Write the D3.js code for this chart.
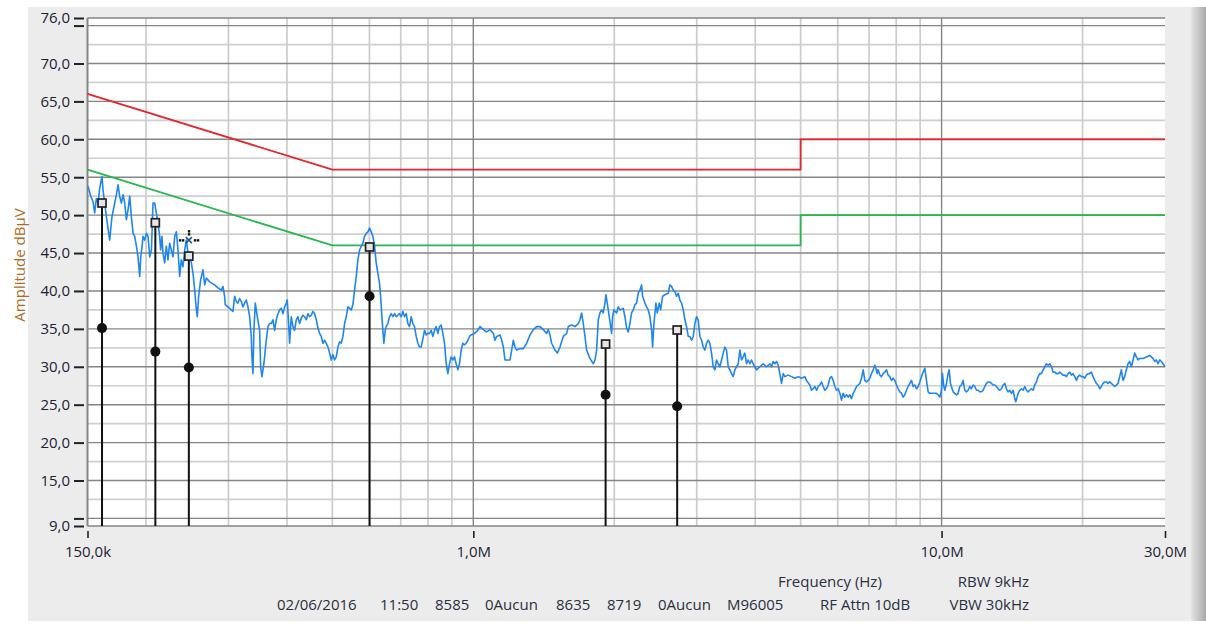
<!DOCTYPE html>
<html>
<head>
<meta charset="utf-8"/>
<script src="https://cdn.jsdelivr.net/npm/d3@7/dist/d3.min.js"></script>
<style>
body { margin: 0; background: #fff; overflow: hidden; }
svg text { font-family: "Open Sans", sans-serif; }
</style>
</head>
<body>
<svg id="svg" width="1206" height="625"></svg>
<script>
// limit lines, frequency in kHz, level in dBuV
var qpFreq  = [150, 500, 5000, 5000, 30000];
var qpLimit = [66, 56, 56, 60, 60];
var avFreq  = [150, 500, 5000, 5000, 30000];
var avLimit = [56, 46, 46, 50, 50];

// markers (peak square + average dot)
var markerFreq = [161.1, 209.4, 246.9, 600.4, 1916.5, 2725];
var markerPeak = [51.6, 49.0, 44.6, 45.8, 33.0, 34.85];
var markerAvg  = [35.1, 32.0, 29.9, 39.3, 26.3, 24.8];
var cursorFreq = 246.9, cursorLevel = 46.7;

// measured trace
var traceFreq = [
 150.4,152.4,154.1,155.4,156.7,158.0,159.3,160.6,161.1,161.9,163.2,164.6,165.9,167.3,168.1,169.2,171.5,172.9,174.3,175.7,
 177.2,178.7,180.1,181.6,183.1,184.6,186.1,187.7,189.2,190.8,192.3,193.9,194.9,196.2,197.1,198.7,200.4,202.0,203.7,205.4,207.0,
 208.7,210.4,212.1,213.9,214.9,216.3,217.4,219.2,221.0,222.8,224.7,226.5,228.4,230.3,232.2,234.1,236.0,237.9,239.9,241.9,243.8,
 245.9,247.9,250.0,252.0,254.1,256.2,257.4,259.1,261.7,264.7,266.9,269.1,273.5,276.7,280.3,285.0,
 289.6,292.0,294.4,295.3,299.2,304.2,306.7,309.2,311.8,314.3,316.9,319.5,322.1,324.8,327.5,330.2,332.9,335.6,336.7,338.4,340.0,
 342.3,345.7,349.7,351.4,353.7,357.1,361.3,364.3,367.3,370.3,373.4,376.4,379.5,382.7,385.8,389.0,392.2,395.4,398.7,400.6,
 403.2,405.2,408.5,411.9,415.3,418.7,422.2,425.6,429.1,432.7,436.2,439.8,443.4,447.1,450.7,454.5,458.2,462.0,465.8,469.6,
 473.5,477.4,481.3,485.3,489.3,493.3,497.4,501.4,505.6,509.7,513.9,518.1,522.4,526.7,531.0,535.4,539.8,544.3,548.7,553.2,
 557.7,562.3,566.9,571.6,576.3,581.0,585.8,590.6,595.5,600.4,605.3,610.3,615.3,620.4,625.5,630.6,633.8,638.0,641.0,644.2,648.4,651.6,
 657.0,662.4,667.9,673.3,678.9,684.5,690.1,695.8,701.5,707.3,713.1,719.0,724.9,730.8,736.8,742.9,749.0,755.2,761.4,767.7,
 774.0,780.4,786.8,793.3,799.8,806.4,813.0,819.7,826.4,833.2,840.1,847.0,854.0,861.0,868.1,875.2,882.4,889.7,897.0,904.4,
 911.7,919.2,926.8,934.4,942.1,949.8,957.6,965.5,973.5,981.5,989.5,1005.9,1022.5,
 1033.5,1050.5,1067.9,1085.5,1103.5,1112.5,1121.7,1140.2,1149.6,
 1159.1,1168.6,1178.3,1197.7,1207.6,1217.5,1227.5,1237.6,1258.1,1278.8,1300.0,1321.4,1343.3,
 1365.4,1388.0,1410.9,1434.2,1446.0,1457.9,1469.9,1494.2,1511.5,1531.3,1556.6,1582.3,1595.4,
 1621.6,1648.4,1675.6,1689.4,1703.3,1717.3,1731.5,1745.7,1774.5,1803.9,1818.7,1833.7,1848.8,1864.0,1879.3,
 1894.7,1910.3,1919.7,1932.2,1951.2,1973.9,1983.4,1996.1,2023.0,2039.7,2056.5,2090.4,2107.6,2125.0,2142.5,2160.1,2177.8,2195.7,2213.8,
 2232.0,2250.4,2268.9,2287.5,2298.7,2325.3,2344.4,2363.7,2383.2,2402.8,2414.6,2430.6,2454.5,2470.8,2495.1,2511.9,2536.4,2565.5,2607.9,
 2629.3,2650.9,2672.7,2694.7,2716.9,2739.2,2761.8,2784.5,2807.4,2830.5,2853.8,2877.2,2901.0,2924.8,2948.8,2973.1,2997.5,3022.2,3047.1,3072.1,
 3097.3,3122.8,3148.5,3174.4,3200.5,3226.8,3253.3,3280.1,3307.1,3334.3,3361.7,3389.4,3417.3,3445.3,3473.7,3502.3,3531.1,3560.2,3589.4,3618.9,
 3648.6,3678.6,3708.9,3739.4,3770.1,3801.1,3832.4,3863.9,3895.7,3927.8,3960.1,3992.7,4025.5,4092.0,4159.6,4228.3,
 4298.1,4333.5,4369.1,4405.0,4441.3,4477.8,4514.6,4551.8,4589.2,4627.0,4703.4,4781.1,4860.1,4940.4,5022.0,
 5104.8,5146.7,5231.8,
 5276.0,5319.4,5363.2,5407.3,5451.7,5496.6,5541.8,
 5587.4,5633.4,5679.7,5726.4,5773.5,5821.0,5868.9,5917.2,5965.8,6014.9,6064.4,6114.3,6164.6,6215.3,6266.4,6317.9,6369.9,6422.3,6475.1,6528.4,
 6581.9,6636.1,6690.6,6745.7,6801.1,6857.1,6913.5,6970.4,7027.7,7085.5,7143.8,7202.6,7238.2,7286.3,7321.6,7381.8,7442.5,7503.7,7565.4,7627.7,7690.4,
 7753.4,7817.2,7881.5,7946.3,8011.7,8077.6,8144.0,8211.0,8278.5,8346.7,8415.3,8484.6,8554.3,8624.7,8695.6,8767.1,8839.2,8911.9,8985.3,9059.2,
 9133.6,9208.8,9284.5,9360.9,9437.8,9593.8,9752.3,9832.6,9913.3,9994.9,10044,10111,10160,10244,10328,10380,10448,10498,10585,10672,
 10760,10848,10938,11028,11118,11210,11302,11395,11489,11583,11678,11774,11871,11969,12067,12167,12267,12368,12469,12572,
 12675,12779,12884,12990,13097,13205,13314,13423,13533,13645,13757,13870,13984,14099,14215,14332,14404,14499,14569,14689,14810,
 14931,15054,15178,15302,15428,15555,15683,15812,15942,16073,16206,16339,16473,16609,16746,16883,17022,17162,17303,17446,
 17588,17733,17879,18026,18174,18323,18474,18626,18779,18934,19089,19247,19405,19565,19725,19888,20051,20216,20383,20550,
 20719,20890,21061,21234,21409,21585,21763,21942,22122,22304,22488,22673,22859,23047,23237,23428,23620,23815,24010,24208,
 24407,24608,24810,25014,25220,25427,25637,25848,26060,26275,26491,26928,27373,27825,28285,28518,
 28752,28989,29227,29467,29710,30000
];
var traceAmp = [
 53.8,52.5,51.8,50.3,52.2,51.6,53.6,54.7,55.1,53.3,51.6,49.8,48.3,46.7,48.1,49.8,51.6,52.7,54.0,52.5,
 51.6,52.7,51.6,49.4,50.7,52.5,49.8,47.6,47.2,45.9,44.5,41.9,44.5,45.9,47.2,46.7,47.6,47.2,44.5,45.4,51.6,
 51.6,50.3,48.9,47.2,45.4,47.2,45.0,43.7,45.9,44.1,46.3,45.4,44.5,47.2,47.8,45.4,41.9,44.1,43.2,45.4,46.7,
 45.0,44.5,43.7,42.3,40.1,37.5,36.6,39.3,41.5,42.8,40.8,41.7,41.2,41.0,40.8,40.4,
 40.1,40.6,39.3,38.2,37.9,37.5,37.3,39.3,38.6,38.4,39.0,38.6,37.9,38.4,38.8,37.9,36.6,34.0,31.3,29.1,34.8,
 38.4,36.6,34.8,30.0,28.7,30.4,33.5,35.3,35.7,35.7,36.2,34.8,36.2,37.0,37.5,37.7,37.0,37.9,38.4,38.8,
 35.7,33.1,36.6,35.3,34.8,36.2,36.6,35.7,36.4,36.8,36.6,36.2,37.0,36.6,36.8,37.3,37.0,36.2,35.1,34.4,
 34.0,33.1,33.5,33.1,32.6,31.8,30.9,31.6,30.9,31.3,32.6,33.3,33.1,34.0,35.7,36.6,37.9,37.7,37.5,38.2,
 40.1,41.9,44.1,45.4,45.9,46.3,47.2,47.6,47.8,48.3,47.8,47.2,45.9,43.7,42.3,41.0,39.3,36.6,34.8,33.1,34.8,35.3,
 35.7,36.6,37.0,36.6,37.0,36.6,36.8,37.0,36.6,37.3,36.6,37.0,35.7,35.3,36.6,35.7,35.3,34.0,33.1,32.6,
 32.6,33.7,34.8,34.2,34.4,34.4,34.8,34.0,34.8,35.3,34.4,35.3,35.5,34.4,33.1,30.4,29.1,30.4,31.3,30.9,
 31.3,30.4,29.6,30.4,32.2,33.1,32.9,33.1,33.5,34.0,34.2,34.4,34.8,
 35.3,34.9,34.6,34.9,34.4,33.5,34.0,34.2,33.5,
 32.6,30.9,30.9,30.9,32.2,33.5,32.6,32.2,32.4,32.4,33.1,34.2,34.9,
 35.3,35.3,34.9,34.4,34.9,34.2,33.1,32.2,31.8,32.6,34.0,34.4,35.3,
 35.5,35.3,35.7,36.2,37.1,35.7,34.0,32.2,31.1,30.4,30.9,32.2,36.2,37.1,37.5,
 37.1,38.4,39.5,38.4,36.6,34.4,36.6,37.5,37.1,37.9,37.5,37.7,36.6,35.1,34.6,35.7,37.1,37.5,38.2,
 38.4,39.7,40.1,40.8,39.3,38.4,37.9,37.5,36.6,34.9,32.6,35.7,38.4,37.1,38.4,37.5,39.3,39.5,39.7,
 40.8,40.6,40.1,39.9,39.3,39.7,38.8,38.4,37.5,36.2,35.3,34.0,34.0,33.5,34.0,35.7,36.6,36.2,34.0,33.5,
 32.6,32.2,33.1,33.5,33.1,31.8,30.0,29.6,30.9,30.4,30.0,30.9,31.8,32.6,32.2,30.0,29.6,29.1,28.7,29.6,
 30.0,30.4,32.2,30.9,31.3,31.8,30.4,30.9,30.4,30.9,30.4,30.0,29.6,30.0,30.4,30.0,
 30.4,30.0,30.7,30.4,30.7,30.2,29.1,27.8,29.1,28.7,28.9,28.7,28.5,28.7,28.5,
 28.7,28.2,27.6,
 26.9,27.1,27.4,26.9,27.4,27.6,28.0,
 27.4,26.9,27.1,27.6,28.5,28.7,28.2,27.4,26.9,27.1,26.5,25.6,26.5,26.0,26.3,26.0,26.3,25.8,26.5,26.9,
 27.4,27.6,27.8,28.5,29.6,28.2,28.0,28.2,28.5,29.1,29.6,30.2,29.8,29.1,29.6,28.9,28.7,29.1,29.3,29.6,28.9,
 28.7,28.2,28.5,28.2,27.6,27.1,26.7,26.5,26.0,26.3,26.9,27.4,27.8,28.2,27.4,27.6,27.1,27.4,28.0,28.7,
 29.3,29.8,28.2,26.7,26.5,26.5,26.5,26.3,26.0,26.9,29.1,27.4,26.9,27.8,29.1,29.6,27.8,27.4,26.7,26.5,
 26.3,26.5,27.4,27.6,28.2,26.9,26.7,26.9,27.4,27.1,27.6,27.4,26.9,26.9,26.7,26.7,26.9,27.4,27.8,28.0,
 28.0,27.8,27.6,27.6,27.4,27.1,26.9,27.1,27.6,27.8,27.1,26.7,26.9,26.5,26.9,25.8,25.4,26.0,26.5,26.9,27.1,
 26.9,27.4,26.9,26.7,26.9,27.1,26.9,27.6,28.0,28.7,29.1,29.1,29.6,30.0,30.4,30.2,30.4,30.0,29.3,29.3,
 29.1,29.1,29.3,29.1,28.9,28.9,28.7,29.1,29.3,28.9,29.1,28.7,28.2,28.7,28.9,28.7,28.7,28.5,28.9,29.1,
 29.1,29.3,28.7,28.2,27.8,27.6,27.1,27.4,27.8,28.0,28.0,27.8,28.0,27.8,27.6,27.4,27.6,27.8,28.7,29.6,
 28.2,28.7,29.6,30.4,30.7,30.0,30.9,31.8,31.3,30.9,31.1,31.1,31.3,31.5,31.1,30.7,
 30.9,30.4,30.9,30.7,30.4,30.0
];

// axes
var xTickVals   = [150, 1000, 10000, 30000];
var xTickLabels = ["150,0k", "1,0M", "10,0M", "30,0M"];
var xMinorGrid  = [200,300,400,500,600,700,800,900,2000,3000,4000,5000,6000,7000,8000,9000,20000];
var xMajorGrid  = [1000, 10000];
var yTickVals   = [9,10,15,20,25,30,35,40,45,50,55,60,65,70,75,76];
var yLabelVals  = [9,15,20,25,30,35,40,45,50,55,60,65,70,76];
var yMajorGrid  = [10,15,20,25,30,35,40,45,50,55,60,65,70,75];
var yMinorGrid  = [12.5,17.5,22.5,27.5,32.5,37.5,42.5,47.5,52.5,57.5,62.5,67.5,72.5];

var infoLine1 = [["Frequency (Hz)", 778, "start"], ["RBW 9kHz", 1029, "end"]];
var infoLine2 = [["02/06/2016", 277, "start"], ["11:50", 380, "start"], ["8585", 435, "start"],
                 ["0Aucun", 485, "start"], ["8635", 556, "start"], ["8719", 607, "start"],
                 ["0Aucun", 658, "start"], ["M96005", 727, "start"], ["RF Attn 10dB", 820, "start"],
                 ["VBW 30kHz", 1029, "end"]];

var pLeft = 87.5, pRight = 1165, pTop = 18, pBottom = 526;

var svg = d3.select("#svg");

var defs = svg.append("defs");
var grad = defs.append("linearGradient").attr("id", "shade");
grad.append("stop").attr("offset", "0%").attr("stop-color", "#e4e4e4");
grad.append("stop").attr("offset", "100%").attr("stop-color", "#a9a9a9");

// panel
svg.append("rect").attr("x", 28).attr("y", 7).attr("width", 1166).attr("height", 614).attr("fill", "#ececec");
svg.append("rect").attr("x", 1191).attr("y", 7).attr("width", 15).attr("height", 614).attr("fill", "url(#shade)");
svg.append("rect").attr("x", pLeft).attr("y", pTop).attr("width", pRight - pLeft).attr("height", pBottom - pTop).attr("fill", "#fff");

var x = d3.scaleLog().domain([150, 30000]).range([pLeft, pRight]);
var y = d3.scaleLinear().domain([9, 76]).range([pBottom, pTop]);

var comma = function(v) { return d3.format(".1f")(v).replace(".", ","); };

// grid
var grid = svg.append("g");
grid.selectAll(".hmin").data(yMinorGrid).enter().append("line")
  .attr("x1", pLeft).attr("x2", pRight)
  .attr("y1", d => y(d)).attr("y2", d => y(d))
  .attr("stroke", "#cfcfcf").attr("stroke-width", 1.7);
grid.selectAll(".vmin").data(xMinorGrid).enter().append("line")
  .attr("x1", d => x(d)).attr("x2", d => x(d))
  .attr("y1", pTop).attr("y2", pBottom)
  .attr("stroke", "#cccccc").attr("stroke-width", 1.7);
grid.selectAll(".hmaj").data(yMajorGrid).enter().append("line")
  .attr("x1", pLeft).attr("x2", pRight)
  .attr("y1", d => y(d)).attr("y2", d => y(d))
  .attr("stroke", "#858585").attr("stroke-width", 1.4);
grid.selectAll(".vmaj").data(xMajorGrid).enter().append("line")
  .attr("x1", d => x(d)).attr("x2", d => x(d))
  .attr("y1", pTop).attr("y2", pBottom)
  .attr("stroke", "#858585").attr("stroke-width", 1.4);
// borders
grid.selectAll(".hb").data([9, 76]).enter().append("line")
  .attr("x1", pLeft).attr("x2", pRight)
  .attr("y1", d => y(d)).attr("y2", d => y(d))
  .attr("stroke", "#858585").attr("stroke-width", 1.6);
grid.append("line").attr("x1", x(150)).attr("x2", x(150)).attr("y1", pTop).attr("y2", pBottom)
  .attr("stroke", "#858585").attr("stroke-width", 2);

// limit lines
var lim = d3.line().x(d => x(d[0])).y(d => y(d[1]));
svg.append("path").datum(qpFreq.map((f, i) => [f, qpLimit[i]]))
  .attr("d", lim).attr("fill", "none").attr("stroke", "#e8242b").attr("stroke-width", 1.8);
svg.append("path").datum(avFreq.map((f, i) => [f, avLimit[i]]))
  .attr("d", lim).attr("fill", "none").attr("stroke", "#25b84a").attr("stroke-width", 1.8);

// trace
svg.append("path").datum(traceFreq.map((f, i) => [f, traceAmp[i]]))
  .attr("d", lim).attr("fill", "none").attr("stroke", "#1f86f0").attr("stroke-width", 1.6)
  .attr("stroke-linejoin", "round");

// markers
var mk = svg.append("g");
markerFreq.forEach(function(f, i) {
  mk.append("line").attr("x1", x(f)).attr("x2", x(f))
    .attr("y1", y(markerPeak[i]) + 4).attr("y2", pBottom)
    .attr("stroke", "#111").attr("stroke-width", 2);
  mk.append("circle").attr("cx", x(f)).attr("cy", y(markerAvg[i])).attr("r", 5).attr("fill", "#111");
  mk.append("rect").attr("x", x(f) - 4).attr("y", y(markerPeak[i]) - 4)
    .attr("width", 8).attr("height", 8)
    .attr("fill", "#e6e6e6").attr("stroke", "#222").attr("stroke-width", 1.7);
});

// cursor
var cx = x(cursorFreq), cy = y(cursorLevel);
var cur = svg.append("g");
[-9, -6, 6, 9].forEach(function(d) {
  cur.append("rect").attr("x", cx + d - 1).attr("y", cy - 1).attr("width", 2.4).attr("height", 2.4).attr("fill", "#111");
});
[-9, -6].forEach(function(d) {
  cur.append("rect").attr("x", cx - 1).attr("y", cy + d - 1).attr("width", 2.4).attr("height", 2.4).attr("fill", "#111");
});
cur.append("path").attr("d", `M${cx-3},${cy-3}L${cx+3},${cy+3}M${cx+3},${cy-3}L${cx-3},${cy+3}`)
  .attr("stroke", "#1f4f9a").attr("stroke-width", 1.5);

// y axis
var yAxis = d3.axisLeft(y).tickValues(yTickVals).tickSize(10).tickPadding(4)
  .tickFormat(d => yLabelVals.indexOf(d) >= 0 ? comma(d) : "");
var yg = svg.append("g").attr("transform", "translate(84,0)").call(yAxis);
yg.select(".domain").remove();
yg.selectAll(".tick line").attr("stroke", "#222").attr("stroke-width", 2);
yg.selectAll(".tick text").attr("fill", "#1d2233").style("font-size", "15px").style("font-family", "Open Sans");

// x axis
var xAxis = d3.axisBottom(x).tickValues(xTickVals).tickSize(7).tickPadding(8)
  .tickFormat((d, i) => xTickLabels[i]);
var xg = svg.append("g").attr("transform", "translate(0,531)").call(xAxis);
xg.select(".domain").remove();
xg.selectAll(".tick line").attr("stroke", "#222").attr("stroke-width", 1.6);
xg.selectAll(".tick text").attr("fill", "#1d2233").style("font-size", "15px").style("font-family", "Open Sans");

// titles
svg.append("text").attr("transform", "translate(25,265) rotate(-90)")
  .attr("text-anchor", "middle").style("font-size", "15px").attr("fill", "#b06a24")
  .text("Amplitude dBµV");

svg.selectAll(".info1").data(infoLine1).enter().append("text")
  .attr("x", d => d[1]).attr("y", 587).attr("text-anchor", d => d[2])
  .style("font-size", "15px").attr("fill", "#2a2f3f").text(d => d[0]);
svg.selectAll(".info2").data(infoLine2).enter().append("text")
  .attr("x", d => d[1]).attr("y", 610).attr("text-anchor", d => d[2])
  .style("font-size", "15px").attr("fill", "#2a2f3f").text(d => d[0]);
</script>
</body>
</html>
